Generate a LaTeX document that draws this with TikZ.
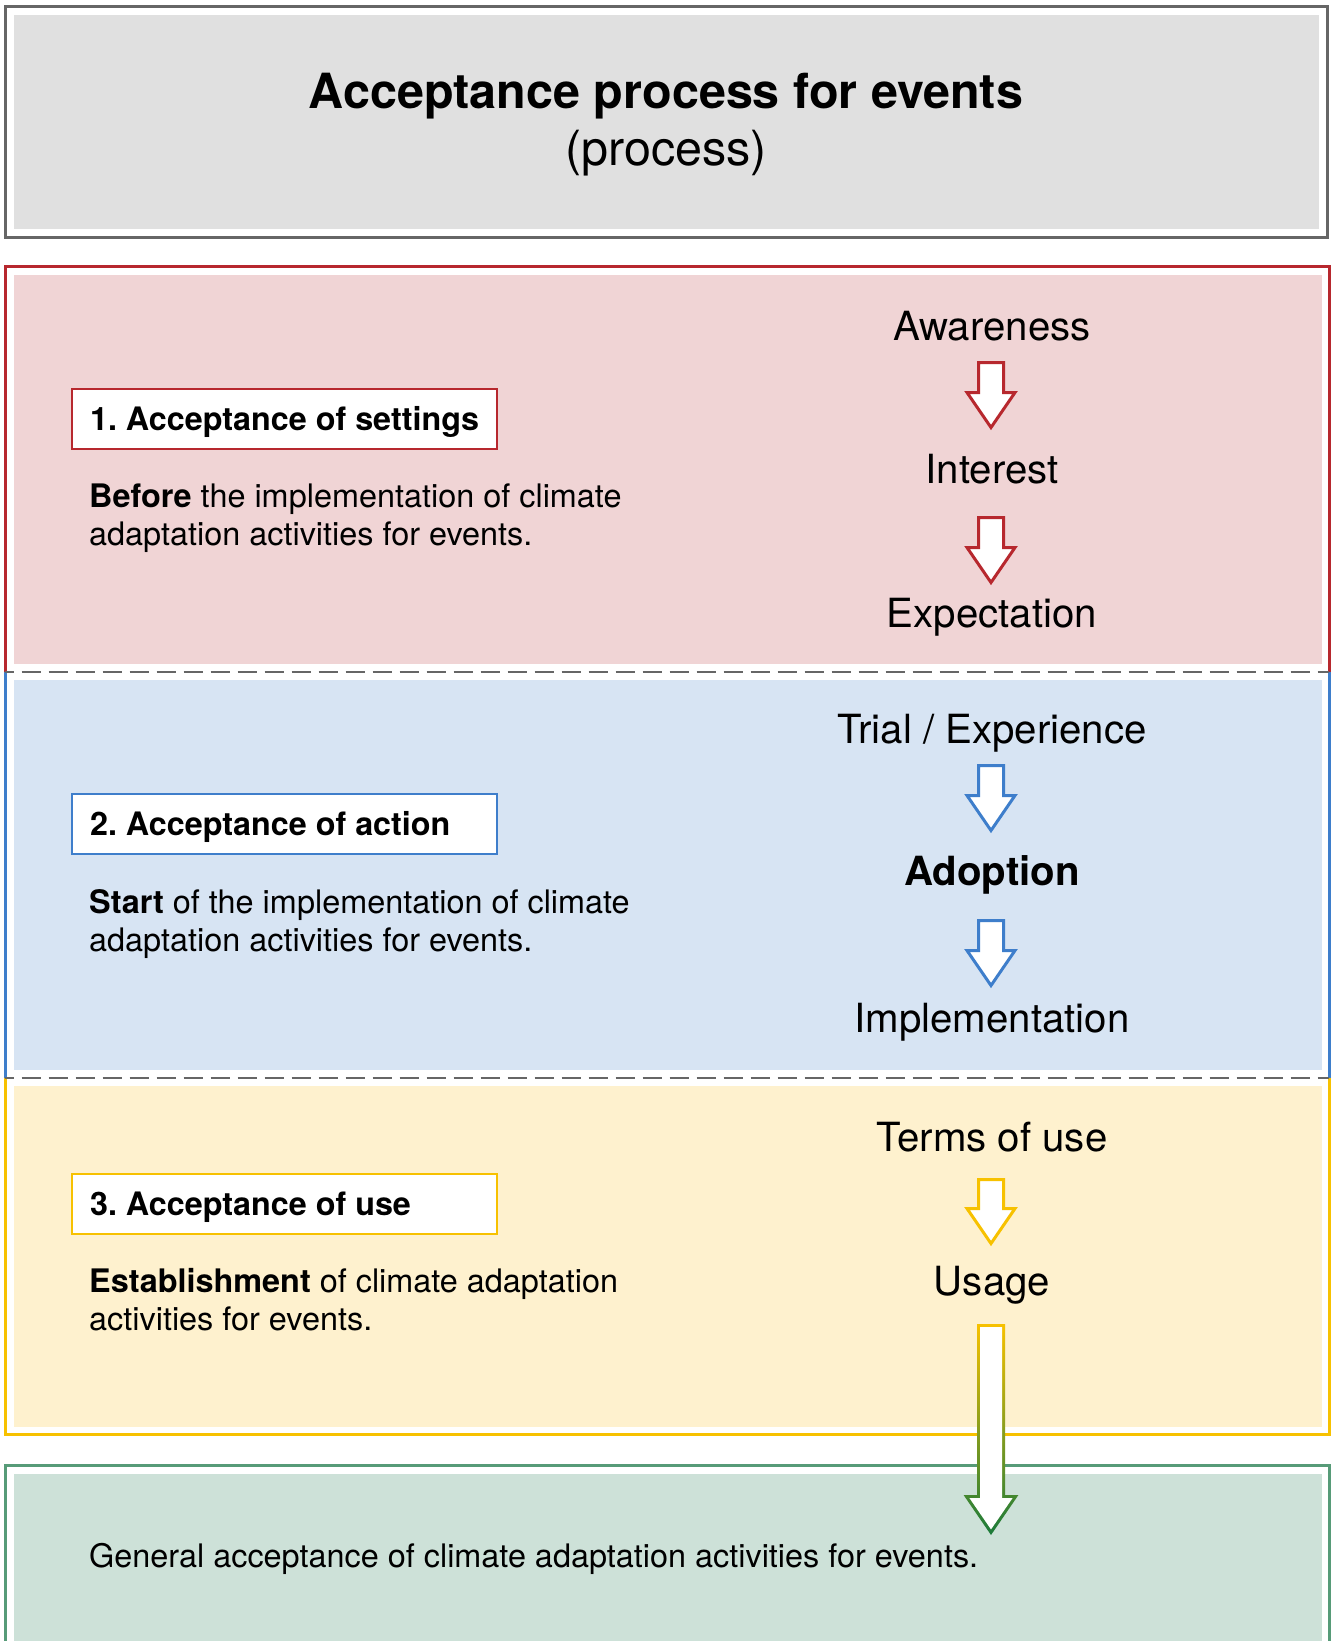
\documentclass[tikz,border=0pt]{standalone}
\usepackage{fontspec}
\setmainfont{TeX Gyre Heros}
\frenchspacing
\definecolor{grayB}{HTML}{666666}
\definecolor{grayF}{HTML}{E0E0E0}
\definecolor{redB}{HTML}{B7282E}
\definecolor{redF}{HTML}{F0D4D5}
\definecolor{blueB}{HTML}{3E7ECB}
\definecolor{blueF}{HTML}{D7E4F3}
\definecolor{yelB}{HTML}{F7C100}
\definecolor{yelF}{HTML}{FEF1CE}
\definecolor{grnB}{HTML}{579B78}
\definecolor{grnF}{HTML}{CDE1D8}
\definecolor{grnA}{HTML}{1B7A3A}
\newcommand{\blockarr}[3]{%
  \draw[#1, line width=3, fill=white, miter limit=10]
    (991-12.5,#2) -- (991+12.5,#2) -- (991+12.5,#3-35) -- (991+24,#3-35)
    -- (991,#3) -- (991-24,#3-35) -- (991-12.5,#3-35) -- cycle;}
\tikzset{
  bord/.style={line width=3},
  labelbox/.style={draw=#1, line width=2.2, fill=white, anchor=north west,
    minimum width=425, minimum height=60, inner xsep=18,
    text height=23.5pt, text depth=0pt,
    font=\fontsize{32.3}{38}\selectfont\bfseries},
  desc/.style={anchor=base west, align=left, font=\fontsize{32.4}{38}\selectfont, inner sep=0},
  word/.style={anchor=base, font=\fontsize{40.2}{48}\selectfont, inner sep=0},
  sep/.style={grayB, line width=2.6, dash pattern=on 19 off 8, dash phase=10.4},
}
\begin{document}
\begin{tikzpicture}[x=1pt,y=-1pt]
\clip (0,0) rectangle (1332,1641);
\useasboundingbox (0,0) rectangle (1332,1641);
% title box
\draw[grayB, bord, fill=white] (5,6) rectangle (1327,237);
\fill[grayF] (14,15) rectangle (1319,229);
\node[anchor=base, inner sep=0, font=\fontsize{48.5}{57}\selectfont\bfseries] (title) at (666,108) {Acceptance process for events};
\node[anchor=base, inner sep=0, font=\fontsize{48.5}{57}\selectfont] (subtitle) at (666,165) {(process)};
% sections
\fill[white] (5,266) rectangle (1329,1434);
\fill[redF] (14,275) rectangle (1322,664);
\fill[blueF] (14,680) rectangle (1322,1070);
\fill[yelF] (14,1086) rectangle (1322,1427);
\draw[redB, bord] (5,672) -- (5,266) -- (1329,266) -- (1329,672);
\draw[blueB, bord] (5,672) -- (5,1078) (1329,672) -- (1329,1078);
\draw[yelB, bord] (5,1078) -- (5,1434) -- (1329,1434) -- (1329,1078);
\draw[sep] (5,672) -- (1329,672);
\draw[sep] (5,1078) -- (1329,1078);
% green box
\draw[grnB, bord, fill=white] (5,1465) rectangle (1329,1680);
\fill[grnF] (14,1474) rectangle (1322,1670);
% left labels
\node[labelbox=redB] (l1) at (71,388) {\makebox[389pt][l]{1. Acceptance of settings}};
\node[desc] (d1) at (89,545) {\textbf{Before} the implementation of climate\\adaptation activities for events.};
\node[labelbox=blueB] (l2) at (71,793) {\makebox[389pt][l]{2. Acceptance of action}};
\node[desc] (d2) at (89,951) {\textbf{Start} of the implementation of climate\\adaptation activities for events.};
\node[labelbox=yelB] (l3) at (71,1173) {\makebox[389pt][l]{3. Acceptance of use}};
\node[desc] (d3) at (89,1330) {\textbf{Establishment} of climate adaptation\\activities for events.};
\node[desc] (g) at (89,1567) {General acceptance of climate adaptation activities for events.};
% right words
\node[word] (aw) at (992,340) {Awareness};
\node[word] (in) at (992,483) {Interest};
\node[word] (ex) at (992,627) {Expectation};
\node[word] (tr) at (992,743) {Trial / Experience};
\node[word, font=\fontsize{40.2}{48}\selectfont\bfseries] (ad) at (992,885) {Adoption};
\node[word] (im) at (992,1032) {Implementation};
\node[word] (tu) at (992,1151) {Terms of use};
\node[word] (us) at (992,1295) {Usage};
% arrows
\blockarr{redB}{362.5}{427.5}
\blockarr{redB}{517.5}{582.5}
\blockarr{blueB}{765.5}{830.5}
\blockarr{blueB}{920.5}{985.5}
\blockarr{yelB}{1179.5}{1243.5}
% long gradient arrow
\shade[top color=yelB, middle color=yelB!80!grnA, bottom color=grnA]
  (977,1324) -- (1005,1324) -- (1005,1495) -- (1018.4,1495) -- (991,1535)
  -- (963.6,1495) -- (977,1495) -- cycle;
\fill[white]
  (980,1327) -- (1002,1327) -- (1002,1498) -- (1012.6,1498) -- (991,1529.4)
  -- (969.4,1498) -- (980,1498) -- cycle;
\end{tikzpicture}
\end{document}
